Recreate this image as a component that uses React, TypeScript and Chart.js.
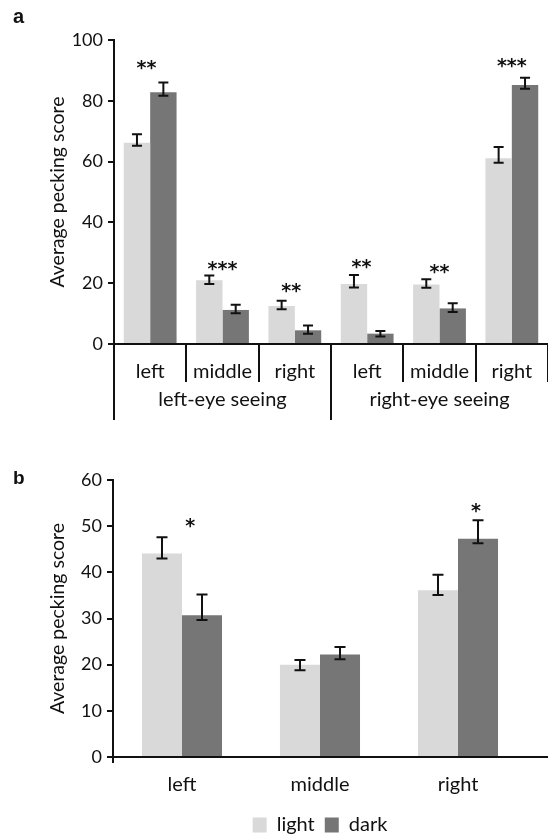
import React, { useEffect, useRef } from 'react';
import { Chart, registerables } from 'chart.js';

Chart.register(...registerables);

// ---------- data ----------
const seriesNames = ['light', 'dark'];

// Panel a
const catsA = ['left', 'middle', 'right', 'left', 'middle', 'right'];
const groupsA = ['left-eye seeing', 'right-eye seeing'];
const lightA = [66.2, 21.0, 12.5, 19.7, 19.6, 61.1];
const lightAHi = [69.0, 22.5, 14.2, 22.7, 21.3, 64.8];
const lightALo = [65.2, 19.7, 11.4, 18.6, 18.5, 59.6];
const darkA = [82.8, 11.2, 4.5, 3.4, 11.7, 85.2];
const darkAHi = [86.0, 12.9, 6.1, 4.3, 13.4, 87.6];
const darkALo = [81.7, 10.1, 3.4, 2.5, 10.5, 84.0];
const sigA = ['**', '***', '**', '**', '**', '***'];
const sigALevel = [92.1, 26.0, 18.8, 26.8, 25.2, 92.8];
const ticksA = [0, 20, 40, 60, 80, 100];

// Panel b
const catsB = ['left', 'middle', 'right'];
const lightB = [44.1, 20.0, 36.1];
const lightBHi = [47.6, 21.0, 39.5];
const lightBLo = [43.0, 18.8, 35.1];
const darkB = [30.7, 22.2, 47.3];
const darkBHi = [35.2, 23.8, 51.3];
const darkBLo = [29.7, 21.2, 46.3];
const sigB = ['*', '', '*'];
const sigBLevel = [51.0, 0, 54.3];
const ticksB = [0, 10, 20, 30, 40, 50, 60];

// ---------- styles ----------
const FONT = 'Lato, "Open Sans", sans-serif';
const INK = '#111111';
const COLORS = ['#D9D9D9', '#767676'];
const sigADx = [-0.05, 0, -0.05, -0.08, 0, 0];
const sigBDx = [0.06, 0, 0.13];

Chart.defaults.font.family = FONT;

function errorBarPlugin(hi: number[][], lo: number[][], halfCap: number) {
  return {
    id: 'errbars',
    afterDatasetsDraw(chart: any) {
      const { ctx } = chart;
      const ys = chart.scales.y;
      ctx.save();
      ctx.strokeStyle = INK;
      ctx.lineWidth = 2;
      chart.data.datasets.forEach((_ds: any, i: number) => {
        const meta = chart.getDatasetMeta(i);
        meta.data.forEach((el: any, j: number) => {
          const x = el.x;
          const yh = ys.getPixelForValue(hi[i][j]);
          const yl = ys.getPixelForValue(lo[i][j]);
          ctx.beginPath();
          ctx.moveTo(x, yh);
          ctx.lineTo(x, yl);
          ctx.moveTo(x - halfCap, yh);
          ctx.lineTo(x + halfCap, yh);
          ctx.moveTo(x - halfCap, yl);
          ctx.lineTo(x + halfCap, yl);
          ctx.stroke();
        });
      });
      ctx.restore();
    },
  };
}

function sigPlugin(marks: string[], levels: number[], dx: number[], size: number) {
  return {
    id: 'sig',
    afterDatasetsDraw(chart: any) {
      const { ctx } = chart;
      const xs = chart.scales.x;
      const ys = chart.scales.y;
      const cw = xs.width / chart.data.labels.length;
      ctx.save();
      ctx.fillStyle = INK;
      ctx.font = `bold ${size}px "DejaVu Sans"`;
      ctx.textAlign = 'center';
      ctx.textBaseline = 'alphabetic';
      marks.forEach((m, j) => {
        if (!m) return;
        const px = xs.getPixelForValue(j) + dx[j] * cw;
        const py = ys.getPixelForValue(levels[j]) + 0.55 * size;
        ctx.fillText(m, px, py);
      });
      ctx.restore();
    },
  };
}

const decorA = {
  id: 'decorA',
  afterDraw(chart: any) {
    const { ctx, chartArea: ca } = chart;
    const xs = chart.scales.x;
    ctx.save();
    ctx.strokeStyle = INK;
    ctx.lineWidth = 2;
    ctx.beginPath();
    ctx.moveTo(ca.left, ca.bottom);
    ctx.lineTo(ca.left, 420);
    const xd = Math.round((xs.getPixelForValue(2) + xs.getPixelForValue(3)) / 2);
    ctx.moveTo(xd, ca.bottom);
    ctx.lineTo(xd, 420);
    ctx.stroke();
    ctx.fillStyle = INK;
    ctx.font = `20px ${FONT}`;
    ctx.textAlign = 'center';
    ctx.textBaseline = 'middle';
    groupsA.forEach((g, k) => {
      const x = (xs.getPixelForValue(k * 3) + xs.getPixelForValue(k * 3 + 2)) / 2;
      ctx.fillText(g, x, 400);
    });
    ctx.font = 'bold 20px "Liberation Sans"';
    ctx.textAlign = 'left';
    ctx.textBaseline = 'alphabetic';
    ctx.fillText('a', 13, 23);
    ctx.restore();
  },
};

const decorB = {
  id: 'decorB',
  afterDraw(chart: any) {
    const { ctx, chartArea: ca } = chart;
    ctx.save();
    ctx.strokeStyle = INK;
    ctx.lineWidth = 2;
    ctx.beginPath();
    ctx.moveTo(ca.right - 1, ca.bottom);
    ctx.lineTo(548, ca.bottom);
    ctx.moveTo(ca.left, ca.bottom);
    ctx.lineTo(ca.left, ca.bottom + 6);
    ctx.stroke();
    ctx.fillStyle = INK;
    ctx.font = 'bold 19px "Liberation Sans"';
    ctx.textAlign = 'left';
    ctx.textBaseline = 'alphabetic';
    ctx.fillText('b', 13, 44);
    ctx.restore();
  },
};

function yAxis(ticks: number[], width: number) {
  return {
    min: ticks[0],
    max: ticks[ticks.length - 1],
    afterBuildTicks: (s: any) => {
      s.ticks = ticks.map((v) => ({ value: v }));
    },
    ticks: { font: { size: 18, family: FONT }, color: INK, padding: 5 },
    grid: { drawOnChartArea: false, tickLength: 6, lineWidth: 2, color: INK },
    border: { color: INK, width: 2 },
    title: {
      display: true,
      text: 'Average pecking score',
      font: { size: 19.5, family: FONT },
      color: INK,
      padding: { top: 46, bottom: 0 },
    },
    afterFit: (s: any) => {
      s.width = width;
      s.paddingTop = 0;
      s.paddingBottom = 0;
    },
  };
}

function makeA(canvas: HTMLCanvasElement) {
  return new Chart(canvas, {
    type: 'bar',
    data: {
      labels: catsA,
      datasets: [
        { label: seriesNames[0], data: lightA, backgroundColor: COLORS[0], borderWidth: 0, categoryPercentage: 0.73, barPercentage: 1 },
        { label: seriesNames[1], data: darkA, backgroundColor: COLORS[1], borderWidth: 0, categoryPercentage: 0.73, barPercentage: 1 },
      ],
    },
    options: {
      responsive: false,
      animation: false,
      devicePixelRatio: 1,
      layout: { padding: { top: 40, left: 0, right: 0, bottom: 0 } },
      plugins: { legend: { display: false }, tooltip: { enabled: false } },
      scales: {
        x: {
          offset: true,
          grid: {
            offset: true,
            drawOnChartArea: false,
            drawTicks: true,
            tickLength: 38,
            lineWidth: 2,
            color: (c: any) => (c.index >= catsA.length ? 'rgba(0,0,0,0)' : INK),
          },
          border: { color: INK, width: 2 },
          ticks: { font: { size: 20, family: FONT }, color: INK, padding: -22.5, maxRotation: 0, autoSkip: false },
          afterFit: (s: any) => {
            s.height = 96;
            s.paddingLeft = 0;
            s.paddingRight = 0;
          },
        },
        y: yAxis(ticksA, 114),
      },
    } as any,
    plugins: [
      errorBarPlugin([lightAHi, darkAHi], [lightALo, darkALo], 5),
      sigPlugin(sigA, sigALevel, sigADx, 19),
      decorA,
    ],
  });
}

function makeB(canvas: HTMLCanvasElement) {
  return new Chart(canvas, {
    type: 'bar',
    data: {
      labels: catsB,
      datasets: [
        { label: seriesNames[0], data: lightB, backgroundColor: COLORS[0], borderWidth: 0, categoryPercentage: 0.58, barPercentage: 1 },
        { label: seriesNames[1], data: darkB, backgroundColor: COLORS[1], borderWidth: 0, categoryPercentage: 0.58, barPercentage: 1 },
      ],
    },
    options: {
      responsive: false,
      animation: false,
      devicePixelRatio: 1,
      layout: { padding: { top: 40, left: 0, right: 21, bottom: 0 } },
      plugins: {
        tooltip: { enabled: false },
        legend: {
          display: true,
          position: 'bottom',
          fullSize: false,
          labels: { boxWidth: 14, boxHeight: 15, font: { size: 20, family: FONT }, color: INK, padding: 10 },
        },
      },
      scales: {
        x: {
          grid: { display: false },
          border: { color: INK, width: 2 },
          ticks: { font: { size: 20, family: FONT }, color: INK, padding: 8, maxRotation: 0, autoSkip: false },
          afterFit: (s: any) => {
            s.height = 48;
            s.paddingLeft = 0;
            s.paddingRight = 0;
          },
        },
        y: yAxis(ticksB, 113),
      },
    } as any,
    plugins: [
      errorBarPlugin([lightBHi, darkBHi], [lightBLo, darkBLo], 5.5),
      sigPlugin(sigB, sigBLevel, sigBDx, 19),
      decorB,
    ],
  });
}

export default function App() {
  const refA = useRef<HTMLCanvasElement>(null);
  const refB = useRef<HTMLCanvasElement>(null);
  useEffect(() => {
    const a = makeA(refA.current!);
    const b = makeB(refB.current!);
    return () => {
      a.destroy();
      b.destroy();
    };
  }, []);
  return (
    <div style={{ position: 'absolute', left: 0, top: 0, width: 548, height: 836, overflow: 'hidden', background: '#fff' }}>
      <canvas ref={refA} width={548} height={440} style={{ position: 'absolute', left: 0, top: 0 }} />
      <canvas ref={refB} width={548} height={405} style={{ position: 'absolute', left: 0, top: 440 }} />
    </div>
  );
}
